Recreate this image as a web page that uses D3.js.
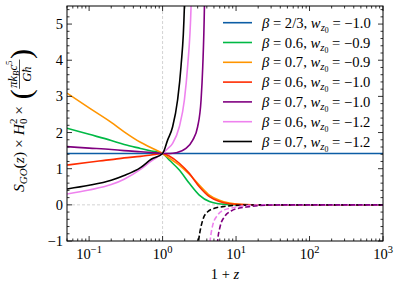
<!DOCTYPE html>
<html><head><meta charset="utf-8">
<script src="https://cdn.jsdelivr.net/npm/d3@7/dist/d3.min.js"></script>
<style>
body{margin:0;background:#fff;}
svg{display:block;font-family:"Liberation Serif","Times New Roman",Times,serif;}
</style></head><body>
<svg id="chart" width="400" height="288"></svg>
<script>
// ---------- data ----------
const xDomain = [0.05, 1000];
const yDomain = [-1, 5.5];
const xMajorTicks = [0.1, 1, 10, 100, 1000];
const xTickExponents = ["\u22121", "0", "1", "2", "3"];
const yMajorTicks = [-1, 0, 1, 2, 3, 4, 5];
const yTickLabels = ["\u22121", "0", "1", "2", "3", "4", "5"];

const blueData   = [[0.05,1.42],[1000,1.42]];
const greenData  = [[0.05,2.12],[0.1,1.95],[0.2,1.78],[0.3,1.67],[0.5,1.56],[0.7,1.49],[1,1.42],
                    [1.23,1.24],[1.69,0.964],[2.31,0.596],[3.16,0.27],[4.34,0.09],[5.5,0.035],[7.33,0.012],[12,0.002],[20,0],[1000,0]];
const orangeData = [[0.05,3.09],[0.1,2.68],[0.2,2.28],[0.3,2.02],[0.5,1.73],[0.7,1.58],[1,1.42],
                    [1.23,1.29],[1.69,1.10],[2.31,0.845],[3.16,0.55],[4.34,0.27],[5.94,0.125],[8.13,0.05],[11.1,0.015],[20,0.002],[30,0],[1000,0]];
const redData    = [[0.05,1.10],[0.1,1.18],[0.2,1.25],[0.3,1.30],[0.5,1.34],[0.7,1.38],[1,1.42],
                    [1.23,1.35],[1.69,1.15],[2.31,0.87],[3.16,0.50],[4.34,0.225],[5.94,0.09],[8.13,0.03],[12,0.006],[20,0],[1000,0]];
const purpleData = [[0.05,1.61],[0.1,1.57],[0.2,1.53],[0.3,1.50],[0.5,1.47],[0.7,1.45],[1,1.42],
                    [1.25,1.42],[1.52,1.44],[2.08,1.56],[2.57,1.79],[3.0,2.16],[3.34,2.9],[3.52,3.82],[3.71,5.48],[3.8,7]];
const violetData = [[0.05,0.30],[0.1,0.41],[0.2,0.56],[0.3,0.71],[0.5,0.98],[0.7,1.21],[1,1.42],
                    [1.17,1.55],[1.37,1.70],[1.69,2.16],[1.98,2.90],[2.19,3.82],[2.44,5.48],[2.55,7]];
const blackData  = [[0.05,0.44],[0.1,0.54],[0.2,0.68],[0.3,0.81],[0.5,1.03],[0.7,1.26],[1,1.42],
                    [1.17,1.79],[1.37,2.16],[1.60,2.90],[1.78,3.82],[1.98,5.48],[2.06,7]];
const blackDash  = [[3.0,-1.2],[3.1,-0.97],[3.52,-0.42],[4.11,-0.19],[5.07,-0.096],[6.61,-0.05],[9.0,-0.02],[14,-0.005],[20,0],[1000,0]];
const violetDash = [[4.3,-1.25],[4.43,-1.0],[4.81,-0.56],[5.62,-0.28],[6.92,-0.14],[9.0,-0.08],[12.3,-0.03],[25,0],[1000,0]];
const purpleDash = [[5.5,-1.3],[5.62,-1.0],[6.07,-0.6],[6.95,-0.33],[8.57,-0.17],[11.1,-0.09],[15.1,-0.05],[25,-0.01],[50,0],[1000,0]];

const betaLabels = ["2/3","0.6","0.7","0.6","0.7","0.6","0.7"];
const wLabels    = ["\u22121.0","\u22120.9","\u22120.9","\u22121.0","\u22121.0","\u22121.2","\u22121.2"];
const colors     = ["#0C5DA5","#00B945","#FF9500","#FF2C00","#800080","#EE82EE","#000000"];
const solidSeries = [blueData, greenData, orangeData, redData, purpleData, violetData, blackData];
const dashedSeries = [{d: blackDash, c: 6}, {d: violetDash, c: 5}, {d: purpleDash, c: 4}];

// ---------- layout ----------
const L = 67, R = 383, T = 6, B = 241;
const svg = d3.select("#chart");
const x = d3.scaleLog().domain(xDomain).range([L, R]);
const y = d3.scaleLinear().domain(yDomain).range([B, T]);

svg.append("clipPath").attr("id","clip").append("rect")
  .attr("x", L).attr("y", T).attr("width", R-L).attr("height", B-T);

svg.append("line").attr("x1", x(1)).attr("x2", x(1)).attr("y1", T).attr("y2", B)
  .attr("stroke","#c8c8c8").attr("stroke-width",0.8).attr("stroke-dasharray","3,2");
svg.append("line").attr("x1", L).attr("x2", R).attr("y1", y(0)).attr("y2", y(0))
  .attr("stroke","#c8c8c8").attr("stroke-width",0.8).attr("stroke-dasharray","3,2");

const line = d3.line().x(d => x(d[0])).y(d => y(d[1])).curve(d3.curveMonotoneX);
const g = svg.append("g").attr("clip-path","url(#clip)");
solidSeries.forEach((s, i) => {
  g.append("path").attr("d", line(s)).attr("fill","none")
    .attr("stroke", colors[i]).attr("stroke-width", 1.6);
});
dashedSeries.forEach(s => {
  g.append("path").attr("d", line(s.d)).attr("fill","none")
    .attr("stroke", colors[s.c]).attr("stroke-width", 1.6).attr("stroke-dasharray","5,2.5");
});

// ---------- axes: frame + inward ticks ----------
const ax = svg.append("g");
ax.append("rect").attr("x", L).attr("y", T).attr("width", R-L).attr("height", B-T)
  .attr("fill","none").attr("stroke","#000").attr("stroke-width",1);

const xMinor = [];
for (let e = -2; e < 3; e++) for (let m = 2; m <= 9; m++) {
  const v = m * Math.pow(10, e);
  if (v >= xDomain[0] && v <= xDomain[1]) xMinor.push(v);
}
const yMinor = d3.range(-1, 5.5001, 0.2).filter(v => Math.abs(v - Math.round(v)) > 1e-6);

function tick(x1, y1, x2, y2) {
  ax.append("line").attr("x1",x1).attr("y1",y1).attr("x2",x2).attr("y2",y2)
    .attr("stroke","#000").attr("stroke-width",0.8);
}
xMajorTicks.forEach(v => { tick(x(v), B, x(v), B-5); tick(x(v), T, x(v), T+5); });
xMinor.forEach(v => { tick(x(v), B, x(v), B-2.5); tick(x(v), T, x(v), T+2.5); });
yMajorTicks.forEach(v => { tick(L, y(v), L+5, y(v)); tick(R, y(v), R-5, y(v)); });
yMinor.forEach(v => { tick(L, y(v), L+2.5, y(v)); tick(R, y(v), R-2.5, y(v)); });

yMajorTicks.forEach((v, i) => {
  svg.append("text").attr("x", L-4).attr("y", y(v)).attr("dy","0.35em")
    .attr("text-anchor","end").attr("font-size",14.5).text(yTickLabels[i]);
});
xMajorTicks.forEach((v, i) => {
  const t = svg.append("text").attr("x", x(v)).attr("y", 259)
    .attr("text-anchor","middle").attr("font-size",14.5);
  t.append("tspan").text("10");
  t.append("tspan").attr("font-size",10.5).attr("dy",-6).text(xTickExponents[i]);
});

const xt = svg.append("text").attr("x", (L+R)/2).attr("y", 279)
  .attr("text-anchor","middle").attr("font-size",14.5);
xt.append("tspan").text("1 + ");
xt.append("tspan").attr("font-style","italic").text("z");

// ---------- y-axis title (rotated) ----------
function buildYLabel(s) {
  const yl = svg.append("g").attr("class","ylabel").attr("transform","translate(23.5,192) rotate(-90)");
  const main = yl.append("text").attr("x",0).attr("y",0).attr("font-size",15*s);
  main.append("tspan").attr("font-style","italic").text("S");
  main.append("tspan").attr("font-style","italic").attr("font-size",10.5*s).attr("dy",3).text("GO");
  main.append("tspan").attr("dy",-3).text("(");
  main.append("tspan").attr("font-style","italic").text("z");
  main.append("tspan").text(") \u00D7 ");
  main.append("tspan").attr("font-style","italic").text("H");
  main.append("tspan").attr("font-size",10.5*s).attr("dy",3.5).text("0");
  main.append("tspan").attr("font-size",10.5*s).attr("dx",-5.3*s).attr("dy",-10).text("2");
  main.append("tspan").attr("dy",6.5).text(" \u00D7 ");
  let u = main.node().getComputedTextLength() + 1;
  const lp = yl.append("text").attr("x", u).attr("y", 7).attr("font-size",30).text("(");
  u += lp.node().getComputedTextLength() + 0.5;
  const num = yl.append("text").attr("y",-7).attr("font-size",12*s);
  num.append("tspan").attr("font-style","italic").text("\u03C0k");
  num.append("tspan").attr("font-style","italic").attr("font-size",8.5*s).attr("dy",2.5).text("B");
  num.append("tspan").attr("font-style","italic").attr("dy",-2.5).text("c");
  num.append("tspan").attr("font-size",8.5*s).attr("dy",-4.5).text("5");
  const den = yl.append("text").attr("y",7.5).attr("font-size",12*s);
  den.append("tspan").attr("font-style","italic").text("G\u0127");
  const nw = num.node().getComputedTextLength();
  const dw = den.node().getComputedTextLength();
  const fw = Math.max(nw, dw) + 2;
  num.attr("x", u + (fw - nw)/2);
  den.attr("x", u + (fw - dw)/2);
  yl.append("line").attr("x1", u).attr("x2", u + fw).attr("y1",-4).attr("y2",-4)
    .attr("stroke","#000").attr("stroke-width",0.7);
  u += fw + 0.5;
  yl.append("text").attr("x", u).attr("y", 7).attr("font-size",30).text(")");
  return yl;
}
const yTarget = 143;
let sY = 1;
let yl = buildYLabel(sY);
for (let it = 0; it < 3; it++) {
  const w = yl.node().getBBox().width;
  if (Math.abs(w - yTarget) < 1) break;
  sY = sY * (1 + (yTarget - w) / (w - 25));
  yl.remove();
  yl = buildYLabel(sY);
}

// ---------- legend ----------
function buildLegendText(i, yy, f) {
  const s = f / 13;
  const t = svg.append("text").attr("x",262).attr("y",yy)
    .attr("dy","0.35em").attr("font-size",13*s);
  t.append("tspan").attr("font-style","italic").text("\u03B2");
  t.append("tspan").text(" = " + betaLabels[i] + ", ");
  t.append("tspan").attr("font-style","italic").text("w");
  t.append("tspan").attr("font-style","italic").attr("font-size",9.5*s).attr("dy",3).text("z");
  t.append("tspan").attr("font-size",7*s).attr("dy",2).text("0");
  t.append("tspan").attr("dy",-5).text(" = " + wLabels[i]);
  return t;
}
const probe = buildLegendText(0, -50, 13);
const legF = 13 * 110 / probe.node().getBBox().width;
probe.remove();
betaLabels.forEach((b, i) => {
  const yy = 22.7 + i * 19.8;
  svg.append("line").attr("x1",223).attr("x2",252).attr("y1",yy).attr("y2",yy)
    .attr("stroke",colors[i]).attr("stroke-width",1.6);
  buildLegendText(i, yy, legF);
});
</script>
</body></html>
